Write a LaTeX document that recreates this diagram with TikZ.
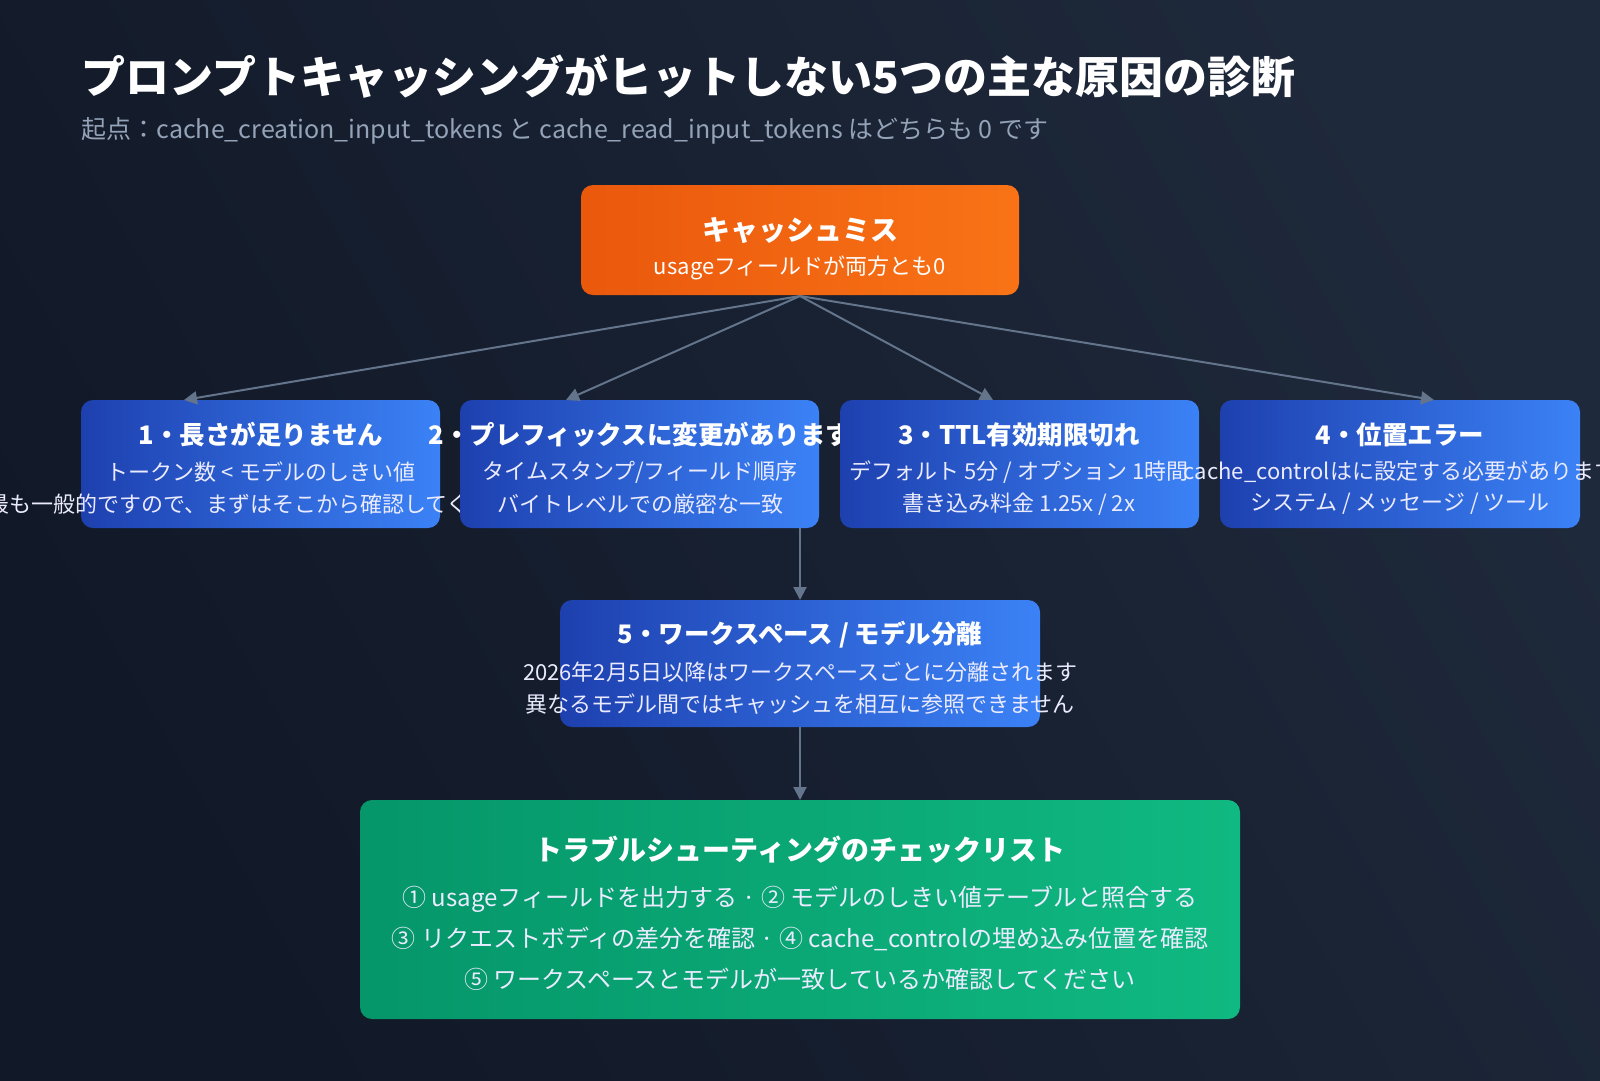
\documentclass[tikz,border=0pt]{standalone}
\usepackage{fontspec}
\setmainfont{Noto Sans CJK JP}
\usetikzlibrary{arrows.meta}
\definecolor{bgA}{HTML}{111827}
\definecolor{bgB}{HTML}{1E293B}
\definecolor{blueA}{HTML}{1E40AF}
\definecolor{blueB}{HTML}{3B82F6}
\definecolor{orA}{HTML}{EA580C}
\definecolor{orB}{HTML}{F97316}
\definecolor{grA}{HTML}{059669}
\definecolor{grB}{HTML}{10B981}
\definecolor{wire}{HTML}{64748B}
\definecolor{subgray}{HTML}{94A3B8}
\tikzset{
  box/.style={rounded corners=12pt, shading=axis, shading angle=60},
  bluebox/.style={box, left color=blueA, right color=blueB},
  head/.style={text=white, font=\fontsize{25.5}{28}\selectfont\bfseries},
  body/.style={text=white!92!blue, font=\fontsize{22}{24}\selectfont},
  link/.style={draw=wire, line width=2pt, -{Triangle[length=13pt,width=13pt]}}
}
\begin{document}
\begin{tikzpicture}[x=1pt,y=-1pt]
  \useasboundingbox (0,0) rectangle (1600,1080);
  \shade[left color=bgA, right color=bgB, shading angle=120] (0,0) rectangle (1600,1080);
  \clip (0,0) rectangle (1600,1080);
  % title
  \node[anchor=west, text=white, font=\fontsize{44}{48}\selectfont\bfseries] (title) at (78,77) {プロンプトキャッシングがヒットしない5つの主な原因の診断};
  \node[anchor=west, text=subgray, font=\fontsize{25}{28}\selectfont] (subtitle) at (78,131) {起点：cache\_creation\_input\_tokens と cache\_read\_input\_tokens はどちらも 0 です};
  % top
  \path[box, left color=orA, right color=orB] (581,185) rectangle (1019,295);
  \coordinate (miss) at (800,296);
  \node[head, font=\fontsize{28}{30}\selectfont\bfseries] (missT) at (800,230) {キャッシュミス};
  \node[body, text=white] (missS) at (800,268) {usageフィールドが両方とも0};
  % row boxes
  \path[bluebox] (81,400) rectangle (440,528);
  \node[head] (c1T) at (261,435) {1・長さが足りません};
  \node[body] (c1a) at (261,472) {トークン数 < モデルのしきい値};
  \node[body] (c1b) at (261,504) {最も一般的ですので、まずはそこから確認してください};
  \path[bluebox] (460,400) rectangle (819,528);
  \node[head] (c2T) at (640,435) {2・プレフィックスに変更があります};
  \node[body] (c2a) at (640,472) {タイムスタンプ/フィールド順序};
  \node[body] (c2b) at (640,504) {バイトレベルでの厳密な一致};
  \path[bluebox] (840,400) rectangle (1199,528);
  \node[head] (c3T) at (1019,435) {3・TTL有効期限切れ};
  \node[body] (c3a) at (1019,472) {デフォルト 5分 / オプション 1時間};
  \node[body] (c3b) at (1019,504) {書き込み料金 1.25x / 2x};
  \path[bluebox] (1220,400) rectangle (1580,528);
  \node[head] (c4T) at (1400,435) {4・位置エラー};
  \node[body] (c4a) at (1400,472) {cache\_controlはに設定する必要があります};
  \node[body] (c4b) at (1400,504) {システム / メッセージ / ツール};
  % fifth
  \path[bluebox] (560,600) rectangle (1040,727);
  \node[head] (c5T) at (800,635) {5・ワークスペース / モデル分離};
  \node[body] (c5a) at (800,672) {2026年2月5日以降はワークスペースごとに分離されます};
  \node[body] (c5b) at (800,704) {異なるモデル間ではキャッシュを相互に参照できません};
  % checklist
  \path[box, left color=grA, right color=grB] (360,800) rectangle (1240,1019);
  \node[head, font=\fontsize{28}{30}\selectfont\bfseries] (chkT) at (800,850) {トラブルシューティングのチェックリスト};
  \node[body, font=\fontsize{24}{26}\selectfont] (chk1) at (800,899) {① usageフィールドを出力する · ② モデルのしきい値テーブルと照合する};
  \node[body, font=\fontsize{24}{26}\selectfont] (chk2) at (800,939) {③ リクエストボディの差分を確認 · ④ cache\_controlの埋め込み位置を確認};
  \node[body, font=\fontsize{24}{26}\selectfont] (chk3) at (800,979) {⑤ ワークスペースとモデルが一致しているか確認してください};
  % connectors
  \coordinate (in1) at (184,400);
  \coordinate (in2) at (566,400);
  \coordinate (in3) at (993,400);
  \coordinate (in4) at (1434,400);
  \coordinate (out2) at (800,528);
  \coordinate (in5) at (800,600);
  \coordinate (out5) at (800,727);
  \coordinate (inchk) at (800,800);
  \foreach \t in {in1,in2,in3,in4}
    \draw[link] (miss) -- (\t);
  \draw[link] (out2) -- (in5);
  \draw[link] (out5) -- (inchk);
\end{tikzpicture}
\end{document}
